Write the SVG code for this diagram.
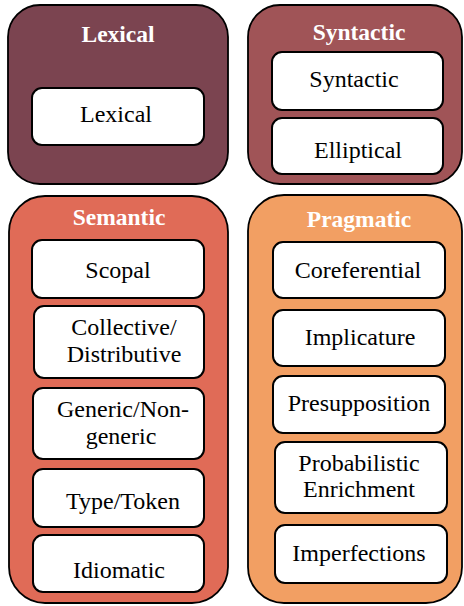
<svg xmlns="http://www.w3.org/2000/svg" width="464" height="606" viewBox="0 0 464 606" font-family="Liberation Serif, Times New Roman, serif">
<style>
.outer{stroke:#000;stroke-width:1.8}
.box{fill:#fff;stroke:#000;stroke-width:2}
.t{font-size:24px;text-anchor:middle;fill:#000}
.h{font-size:23.5px;font-weight:bold;text-anchor:middle;fill:#fff}
</style>
<g id="lexical">
<rect class="outer" x="8" y="5" width="220" height="179" rx="32" fill="#7B4450"/>
<text class="h" x="118" y="42">Lexical</text>
<g id="lexical-item"><rect class="box" x="32" y="88" width="172" height="57" rx="10"/><text class="t" x="116" y="122">Lexical</text></g>
</g>
<g id="syntactic">
<rect class="outer" x="248" y="5" width="214" height="179" rx="32" fill="#A05457"/>
<text class="h" x="359" y="40">Syntactic</text>
<g id="syntactic-item"><rect class="box" x="272" y="52" width="171" height="58" rx="10"/><text class="t" x="354" y="87">Syntactic</text></g>
<g id="elliptical"><rect class="box" x="272" y="118" width="171" height="56" rx="10"/><text class="t" x="358" y="158">Elliptical</text></g>
</g>
<g id="semantic">
<rect class="outer" x="9" y="196" width="219" height="407" rx="36" fill="#E06B57"/>
<text class="h" x="119" y="225">Semantic</text>
<g id="scopal"><rect class="box" x="32" y="240" width="172" height="58" rx="10"/><text class="t" x="118" y="278">Scopal</text></g>
<g id="collective"><rect class="box" x="34" y="306" width="170" height="72" rx="10"/><text class="t" x="124" y="335">Collective/</text><text class="t" x="124" y="362">Distributive</text></g>
<g id="generic"><rect class="box" x="33" y="388" width="171" height="71" rx="10"/><text class="t" x="123" y="417">Generic/Non-</text><text class="t" x="121" y="444">generic</text></g>
<g id="typetoken"><rect class="box" x="33" y="469" width="171" height="58" rx="10"/><text class="t" x="123" y="509">Type/Token</text></g>
<g id="idiomatic"><rect class="box" x="33" y="535" width="171" height="57" rx="10"/><text class="t" x="119" y="578">Idiomatic</text></g>
</g>
<g id="pragmatic">
<rect class="outer" x="248" y="195" width="214" height="408" rx="36" fill="#F29F63"/>
<text class="h" x="359" y="227">Pragmatic</text>
<g id="coreferential"><rect class="box" x="273" y="242" width="172" height="56" rx="10"/><text class="t" x="358" y="278">Coreferential</text></g>
<g id="implicature"><rect class="box" x="273" y="310" width="172" height="56" rx="10"/><text class="t" x="360" y="345">Implicature</text></g>
<g id="presupposition"><rect class="box" x="273" y="376" width="172" height="57" rx="10"/><text class="t" x="359" y="411">Presupposition</text></g>
<g id="probabilistic"><rect class="box" x="275" y="442" width="172" height="71" rx="10"/><text class="t" x="359" y="471">Probabilistic</text><text class="t" x="359" y="497">Enrichment</text></g>
<g id="imperfections"><rect class="box" x="275" y="525" width="172" height="58" rx="10"/><text class="t" x="359" y="561">Imperfections</text></g>
</g>
<g id="connectors"/>
</svg>
